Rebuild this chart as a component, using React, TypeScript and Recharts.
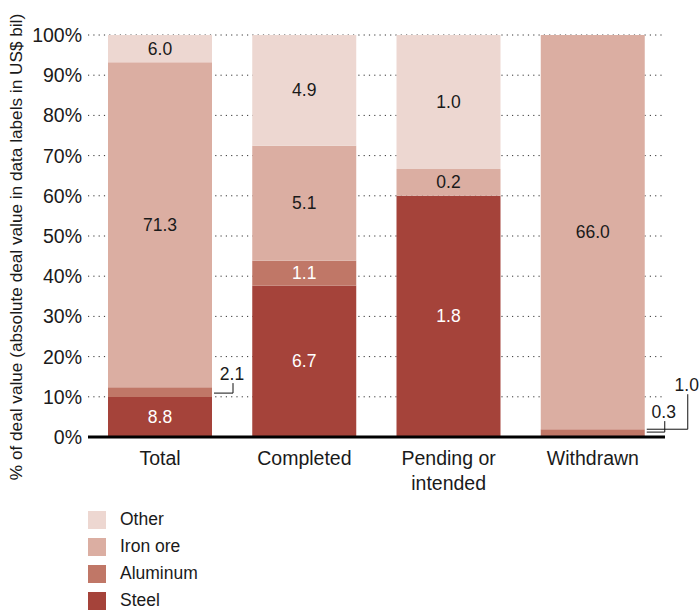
import React from 'react';
import { BarChart, Bar, XAxis, YAxis, CartesianGrid, LabelList, Legend } from 'recharts';

const categories = ['Total', 'Completed', 'Pending or intended', 'Withdrawn'];
const steel = [8.8, 6.7, 1.8, 0.3];
const aluminum = [2.1, 1.1, 0, 1.0];
const ironOre = [71.3, 5.1, 0.2, 66.0];
const other = [6.0, 4.9, 1.0, 0];
const yTicks = [0, 0.1, 0.2, 0.3, 0.4, 0.5, 0.6, 0.7, 0.8, 0.9, 1];
const yAxisTitle = '% of deal value (absolute deal value in data labels in US$ bil)';

const FONT = '"Liberation Sans", Arial, Helvetica, sans-serif';
const TEXT = '#1a1a1a';

const series = [
  { key: 'steel', name: 'Steel', color: '#a5433a', labelColor: '#ffffff' },
  { key: 'aluminum', name: 'Aluminum', color: '#c07767', labelColor: '#ffffff' },
  { key: 'ironOre', name: 'Iron ore', color: '#dbaea2', labelColor: TEXT },
  { key: 'other', name: 'Other', color: '#edd7d1', labelColor: TEXT },
];

const data = categories.map((c, i) => ({
  category: c,
  steel: steel[i],
  aluminum: aluminum[i],
  ironOre: ironOre[i],
  other: other[i],
}));

// callout labels placed outside the bar with a leader line (keyed by series|category)
const callouts: Record<string, { dx: number; dy: number; lineDy: number }> = {
  'aluminum|Total': { dx: 20, dy: -18, lineDy: 1 },
  'steel|Withdrawn': { dx: 19, dy: -24, lineDy: -4 },
  'aluminum|Withdrawn': { dx: 42, dy: -47, lineDy: -3 },
};

const makeLabel = (seriesKey: string, color: string) => (props: any) => {
  const vb = props.viewBox || props;
  const x = Number(vb.x);
  const y = Number(vb.y);
  const width = Number(vb.width);
  const height = Number(vb.height);
  const [cat, raw] = String(props.value).split('|');
  const value = Number(raw);
  if (!value) return null;
  const cy = y + height / 2;
  const call = callouts[`${seriesKey}|${cat}`];
  if (call) {
    const right = x + width;
    const lx = right + call.dx;
    const ly = cy + call.dy;
    const lineY = cy + call.lineDy;
    return (
      <g>
        <polyline
          points={`${right + 2},${lineY} ${lx + 1},${lineY} ${lx + 1},${ly + 9}`}
          fill="none"
          stroke="#111"
          strokeWidth={1}
        />
        <text x={lx} y={ly} textAnchor="middle" dominantBaseline="central" fontSize={17.5} fill={TEXT} fontFamily={FONT}>
          {value.toFixed(1)}
        </text>
      </g>
    );
  }
  return (
    <text x={x + width / 2} y={cy} textAnchor="middle" dominantBaseline="central" fontSize={17.5} fill={color} fontFamily={FONT}>
      {value.toFixed(1)}
    </text>
  );
};

const CategoryTick = (props: any) => {
  const { x, y, payload } = props;
  const words = String(payload.value).split(' ');
  const lines = words.length > 2 ? [words.slice(0, -1).join(' '), words[words.length - 1]] : [String(payload.value)];
  return (
    <text x={x} y={y} textAnchor="middle" fontSize={19.5} fill={TEXT} fontFamily={FONT}>
      {lines.map((l, i) => (
        <tspan key={i} x={x} dy={i === 0 ? 20 : 25}>
          {l}
        </tspan>
      ))}
    </text>
  );
};

const YTitle = () => (
  <text
    x={16}
    y={247}
    transform="rotate(-90 16 247)"
    textAnchor="middle"
    dominantBaseline="central"
    fontSize={17.2}
    fill={TEXT}
    fontFamily={FONT}
  >
    {yAxisTitle}
  </text>
);

const legendOrder = ['other', 'ironOre', 'aluminum', 'steel'];

const LegendContent = () => (
  <div style={{ fontFamily: FONT }}>
    {legendOrder.map((k) => {
      const s = series.find((q) => q.key === k)!;
      return (
        <div key={k} style={{ display: 'flex', alignItems: 'center', height: 27 }}>
          <div style={{ width: 18, height: 18, background: s.color }} />
          <span style={{ marginLeft: 14, fontSize: 17.5, color: TEXT }}>{s.name}</span>
        </div>
      );
    })}
  </div>
);

export default function App() {
  return (
    <div style={{ position: 'absolute', left: 0, top: 0, width: 699, height: 613, background: '#fff', fontFamily: FONT }}>
      <BarChart
        width={699}
        height={613}
        data={data}
        stackOffset="expand"
        barCategoryGap={20}
        margin={{ top: 35, right: 34, bottom: 146, left: 0 }}
      >
        <CartesianGrid vertical={false} stroke="#333" strokeDasharray="1.2 4.1" />
        <XAxis
          dataKey="category"
          height={30}
          axisLine={{ stroke: '#000', strokeWidth: 3 }}
          tickLine={false}
          tick={<CategoryTick />}
          interval={0}
        />
        <YAxis
          width={88}
          domain={[0, 1]}
          ticks={yTicks}
          tickFormatter={(v: number) => `${Math.round(v * 100)}%`}
          axisLine={false}
          tickLine={false}
          tickSize={4}
          tickMargin={2}
          tick={{ fontSize: 19.5, fill: TEXT, fontFamily: FONT }}
          label={<YTitle />}
        />
        {series.map((s) => (
          <Bar key={s.key} dataKey={s.key} name={s.name} stackId="a" fill={s.color} isAnimationActive={false}>
            <LabelList
              dataKey={(row: any) => `${row.category}|${row[s.key]}`}
              content={makeLabel(s.key, s.labelColor)}
            />
          </Bar>
        ))}
        <Legend
          layout="vertical"
          align="center"
          verticalAlign="middle"
          wrapperStyle={{ left: 88, top: 506, width: 200 }}
          content={<LegendContent />}
        />
      </BarChart>
    </div>
  );
}
